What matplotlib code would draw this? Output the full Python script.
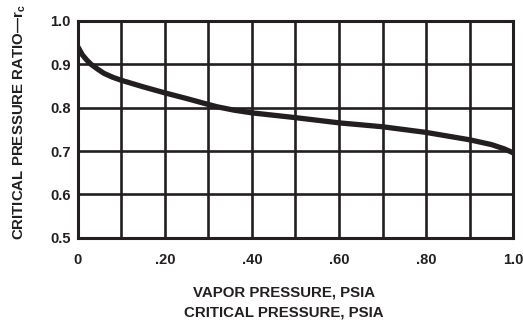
import matplotlib.pyplot as plt
import numpy as np

plt.rcParams['font.family'] = ['Liberation Sans', 'DejaVu Sans']
plt.rcParams['font.weight'] = 'bold'
plt.rcParams['mathtext.fontset'] = 'custom'
plt.rcParams['mathtext.rm'] = 'Liberation Sans:bold'
plt.rcParams['mathtext.it'] = 'Liberation Sans:bold'
plt.rcParams['mathtext.bf'] = 'Liberation Sans:bold'

INK = '#231f20'

# vapor pressure / critical pressure vs critical pressure ratio
ratio_x = [0.0, 0.01, 0.02, 0.03, 0.045, 0.06, 0.08, 0.10, 0.15, 0.20, 0.25,
           0.29, 0.32, 0.36, 0.40, 0.50, 0.60, 0.70, 0.80, 0.90, 0.95, 0.98, 1.0]
rc = [0.940, 0.922, 0.910, 0.900, 0.889, 0.879, 0.870, 0.863, 0.848, 0.834, 0.821,
      0.810, 0.802, 0.794, 0.788, 0.777, 0.765, 0.756, 0.743, 0.726, 0.715, 0.705,
      0.696]

xticks = [0.0, 0.2, 0.4, 0.6, 0.8, 1.0]
xtick_labels = ['0', '.20', '.40', '.60', '.80', '1.0']
yticks = [0.5, 0.6, 0.7, 0.8, 0.9, 1.0]
ytick_labels = ['0.5', '0.6', '0.7', '0.8', '0.9', '1.0']

fig = plt.figure(figsize=(5.23, 3.21), dpi=100)
ax = fig.add_axes([0.149, 0.259, 0.832, 0.676])

for v in np.arange(0.1, 1.0, 0.1):
    ax.axvline(v, color=INK, lw=1.9, zorder=1)
for v in np.arange(0.6, 1.0, 0.1):
    ax.axhline(v, color=INK, lw=1.9, zorder=1)

ax.plot(ratio_x, rc, color=INK, lw=3.8, solid_capstyle='butt',
        solid_joinstyle='round', zorder=3)

ax.set_xlim(0, 1.0)
ax.set_ylim(0.5, 1.0)
ax.set_xticks(xticks)
ax.set_xticklabels(xtick_labels)
ax.set_yticks(yticks)
ax.set_yticklabels(ytick_labels)
ax.tick_params(length=0, labelsize=10.5, colors=INK, pad=5)
ax.tick_params(axis='x', pad=11)
for s in ax.spines.values():
    s.set_linewidth(2.2)
    s.set_color(INK)

fig.text(0.037, 0.62, r'CRITICAL PRESSURE RATIO—$\mathrm{r_c}$', rotation=90,
         ha='center', va='center', fontsize=10.8, fontweight='bold', color=INK)
fig.text(0.543, 0.09, 'VAPOR PRESSURE, PSIA', ha='center', va='center',
         fontsize=10.8, fontweight='bold', color=INK)
fig.text(0.543, 0.027, 'CRITICAL PRESSURE, PSIA', ha='center', va='center',
         fontsize=10.8, fontweight='bold', color=INK)

fig.savefig('out.png', dpi=100)
